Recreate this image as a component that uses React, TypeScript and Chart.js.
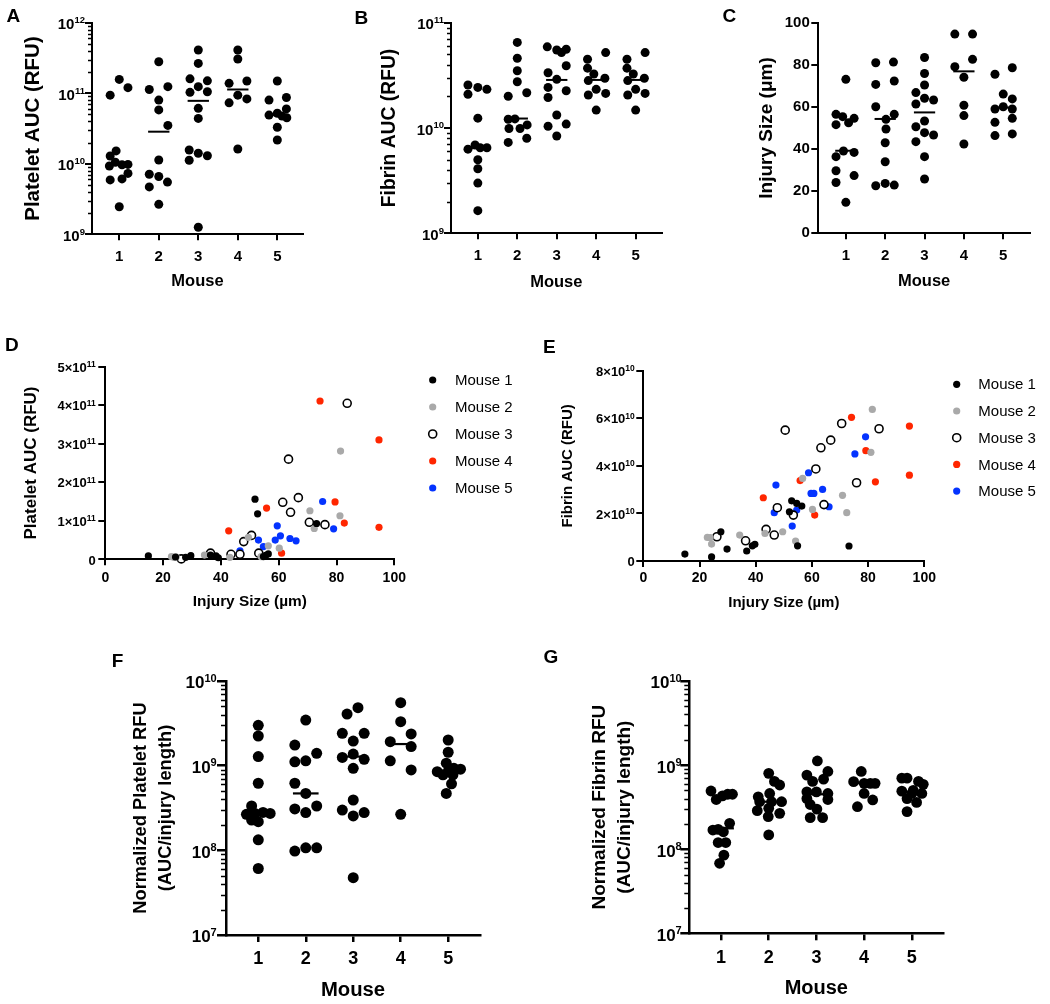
import React, { useEffect, useRef } from 'react';
import { Chart, registerables } from 'chart.js';

Chart.register(...registerables);

const FONT = "'Liberation Sans', Arial, Helvetica, sans-serif";
Chart.defaults.font.family = FONT;
Chart.defaults.color = '#000';

// ---------------- shared categories ----------------
const mouseTicks = [1, 2, 3, 4, 5];
const mouseTickLabels = ['1', '2', '3', '4', '5'];
const mouseNames = ['Mouse 1', 'Mouse 2', 'Mouse 3', 'Mouse 4', 'Mouse 5'];
const mouseColors = ['#000000', '#a9a9a9', '#000000', '#ff2600', '#0433ff'];
const mouseHollow = [false, false, true, false, false];

// ---------------- Panel A: Platelet AUC (RFU) ----------------
const plateletAUC = [
  [9.4e10, 1.57e11, 1.2e11, 1.52e10, 1.29e10, 1.05e10, 9.3e9, 9.7e9, 9.8e9, 7.3e9, 5.9e9, 6.1e9, 2.46e9],
  [2.8e11, 1.13e11, 1.24e11, 8.0e10, 5.8e10, 3.5e10, 1.13e10, 7.1e9, 6.6e9, 5.5e9, 4.7e9, 2.66e9],
  [4.1e11, 2.65e11, 1.6e11, 1.5e11, 1.24e11, 1.03e11, 1.05e11, 6.1e10, 4.4e10, 1.57e10, 1.41e10, 1.3e10, 1.12e10, 1.26e9],
  [4.1e11, 3.06e11, 1.38e11, 1.49e11, 9.4e10, 7.3e10, 8.3e10, 1.62e10],
  [1.49e11, 8.0e10, 8.7e10, 6.0e10, 5.2e10, 4.9e10, 4.75e10, 4.5e10, 3.3e10, 2.17e10],
];
const plateletAUCJitter = [
  [-0.23, 0, 0.22, -0.08, -0.23, -0.1, -0.25, 0.07, 0.22, 0.22, -0.23, 0.07, 0],
  [0, -0.24, 0.23, 0, 0, 0.23, 0, -0.24, 0, 0.22, -0.24, 0],
  [0, 0, -0.21, 0.23, 0, -0.21, 0.23, 0, 0, -0.23, 0, 0.23, -0.23, 0],
  [0, 0, -0.22, 0.23, 0, -0.22, 0.23, 0],
  [0, -0.21, 0.23, 0.23, 0, -0.21, 0.12, 0.24, 0, 0],
];
const plateletAUCMedian = [1.0e10, 2.85e10, 7.8e10, 1.13e11, 4.9e10];
const plateletAUCExponents = [9, 10, 11, 12];

// ---------------- Panel B: Fibrin AUC (RFU) ----------------
const fibrinAUC = [
  [2.56e10, 2.09e10, 2.43e10, 2.33e10, 1.24e10, 6.3e9, 6.9e9, 6.5e9, 6.5e9, 5.0e9, 4.1e9, 3.0e9, 1.64e9],
  [6.5e10, 4.6e10, 3.5e10, 2.75e10, 2.0e10, 2.16e10, 1.21e10, 1.22e10, 9.9e9, 9.9e9, 1.07e10, 7.3e9, 8.0e9],
  [5.9e10, 5.5e10, 5.2e10, 5.6e10, 3.9e10, 3.35e10, 2.9e10, 2.43e10, 2.26e10, 1.95e10, 1.33e10, 1.04e10, 1.09e10, 8.4e9],
  [4.5e10, 5.2e10, 3.7e10, 3.26e10, 2.82e10, 2.97e10, 2.33e10, 2.06e10, 2.13e10, 1.48e10],
  [4.5e10, 5.2e10, 3.7e10, 3.26e10, 2.82e10, 2.97e10, 2.33e10, 2.06e10, 2.13e10, 1.48e10],
];
const fibrinAUCJitter = [
  [-0.25, -0.25, 0, 0.23, 0, -0.25, -0.07, 0.06, 0.23, 0, 0, 0, 0],
  [0, 0, 0, 0, -0.23, 0.24, -0.23, -0.06, -0.21, 0.07, 0.25, -0.23, 0.24],
  [-0.24, 0, 0.12, 0.24, 0.24, -0.22, 0, -0.22, 0.24, -0.22, 0, -0.22, 0.24, 0],
  [-0.22, 0.24, -0.22, -0.06, -0.2, 0.22, 0, -0.2, 0.24, 0],
  [-0.22, 0.24, -0.22, -0.06, -0.2, 0.22, 0, -0.2, 0.24, 0],
];
const fibrinAUCMedian = [6.5e9, 1.23e10, 2.86e10, 2.86e10, 2.86e10];
const fibrinAUCExponents = [9, 10, 11];

// ---------------- Panel C: Injury Size (μm) ----------------
const injurySize = [
  [73.1, 56.5, 55.4, 54.6, 51.6, 52.5, 39.1, 38.4, 36.4, 29.7, 27.4, 24.1, 14.7],
  [81.0, 81.3, 70.7, 72.3, 60.1, 56.5, 54.1, 49.5, 43.0, 34.0, 22.6, 23.7, 22.9],
  [83.5, 75.9, 70.4, 66.8, 64.1, 63.3, 61.4, 53.3, 50.6, 47.8, 46.7, 43.5, 36.4, 25.8],
  [94.6, 94.6, 82.6, 79.1, 74.1, 60.8, 55.9, 42.4],
  [75.5, 78.6, 66.1, 63.8, 59.0, 60.1, 59.0, 52.7, 54.6, 46.4, 47.2],
];
const injurySizeJitter = [
  [0, -0.25, -0.08, 0.21, -0.25, 0.07, -0.06, 0.21, -0.25, -0.25, 0.21, -0.25, 0],
  [-0.24, 0.21, -0.24, 0.23, -0.24, 0.23, 0.02, 0.02, 0, 0, -0.24, 0, 0.23],
  [0, 0, 0, -0.22, 0, 0.23, -0.22, 0, -0.22, 0, 0.23, -0.22, 0, 0],
  [-0.23, 0.22, 0.22, -0.23, 0, 0, 0, 0],
  [-0.21, 0.23, 0, 0.23, -0.21, 0, 0.23, -0.21, 0.23, -0.21, 0.23],
];
const injurySizeMedian = [39.2, 54.3, 57.4, 76.9, 59.7];
const injurySizeTicks = [0, 20, 40, 60, 80, 100];

// ---------------- Panel D: Platelet AUC vs injury size ----------------
const dInjury = [
  [14.9, 24.3, 27.8, 29.6, 36.4, 38.3, 39.1, 51.8, 52.7, 54.7, 55.5, 56.4, 73.1],
  [22.9, 23.8, 24.5, 34.3, 43.1, 49.5, 53.9, 56.4, 60.2, 70.8, 72.3, 81.2, 81.4],
  [26.3, 36.4, 43.5, 46.6, 47.9, 50.6, 53.1, 61.4, 63.4, 64.1, 66.8, 70.6, 76.0, 83.7],
  [42.7, 55.8, 61.0, 74.3, 79.5, 82.7, 94.7, 94.7],
  [46.6, 53.0, 54.7, 58.8, 59.5, 60.6, 63.9, 66.0, 75.2, 79.0],
];
const dPlatelet = [
  [0.087e11, 0.06e11, 0.05e11, 0.095e11, 0.11e11, 0.087e11, 0.04e11, 1.56e11, 1.18e11, 0.07e11, 0.1e11, 0.14e11, 0.93e11],
  [0.07e11, 0.05e11, 0.06e11, 0.11e11, 0.05e11, 0.57e11, 0.07e11, 0.35e11, 0.29e11, 1.26e11, 0.8e11, 1.13e11, 2.81e11],
  [0.01e11, 0.16e11, 0.13e11, 0.13e11, 0.46e11, 0.62e11, 0.16e11, 1.48e11, 2.6e11, 1.22e11, 1.6e11, 0.96e11, 0.9e11, 4.05e11],
  [0.74e11, 1.33e11, 0.16e11, 4.11e11, 1.49e11, 0.94e11, 3.1e11, 0.83e11],
  [0.22e11, 0.5e11, 0.33e11, 0.5e11, 0.87e11, 0.61e11, 0.54e11, 0.48e11, 1.5e11, 0.79e11],
];
const dYTickMantissas = [0, 1, 2, 3, 4, 5];
const dYTickExponent = 11;

// ---------------- Panel E: Fibrin AUC vs injury size ----------------
const eInjury = [
  [14.8, 24.3, 27.6, 29.8, 36.8, 38.8, 39.7, 52.0, 52.8, 54.6, 56.4, 54.9, 73.2],
  [22.8, 23.8, 24.3, 34.3, 43.3, 49.6, 54.2, 56.7, 60.2, 70.9, 72.4, 81.0, 81.5],
  [26.2, 36.4, 43.7, 46.6, 47.7, 50.5, 53.4, 61.4, 63.2, 64.3, 66.7, 70.6, 75.9, 83.9],
  [42.7, 55.8, 61.0, 74.1, 79.2, 82.6, 94.7, 94.7],
  [46.6, 47.2, 53.0, 54.6, 58.8, 59.7, 60.7, 63.8, 66.1, 75.3, 79.1],
];
const eFibrin = [
  [0.29e10, 0.17e10, 1.23e10, 0.5e10, 0.42e10, 0.64e10, 0.7e10, 2.07e10, 2.53e10, 2.42e10, 2.31e10, 0.64e10, 0.63e10],
  [0.99e10, 0.98e10, 0.71e10, 1.09e10, 1.16e10, 1.23e10, 0.84e10, 3.47e10, 2.17e10, 2.76e10, 2.03e10, 4.57e10, 6.37e10],
  [1.02e10, 0.85e10, 1.33e10, 1.09e10, 2.24e10, 5.5e10, 1.93e10, 3.87e10, 4.76e10, 2.37e10, 5.08e10, 5.78e10, 3.29e10, 5.56e10],
  [2.66e10, 3.38e10, 1.93e10, 6.04e10, 4.64e10, 3.33e10, 5.67e10, 3.61e10],
  [2.03e10, 3.19e10, 1.47e10, 2.14e10, 3.71e10, 2.84e10, 2.84e10, 3.01e10, 2.28e10, 4.5e10, 5.22e10],
];
const eYTickMantissas = [0, 2, 4, 6, 8];
const eYTickExponent = 10;
const scatterXTicks = [0, 20, 40, 60, 80, 100];

// ---------------- Panel F: Normalized Platelet RFU ----------------
const normPlatelet = [
  [3.0e9, 2.24e9, 1.28e9, 6.2e8, 3.34e8, 2.66e8, 2.73e8, 2.8e8, 2.73e8, 2.28e8, 2.18e8, 1.33e8, 6.1e7],
  [3.46e9, 1.75e9, 1.4e9, 1.11e9, 1.14e9, 6.2e8, 4.7e8, 3.34e8, 3.08e8, 2.79e8, 9.8e7, 1.07e8, 1.07e8],
  [4.84e9, 4.07e9, 2.41e9, 2.41e9, 1.95e9, 1.37e9, 1.25e9, 1.19e9, 9.3e8, 3.93e8, 2.99e8, 2.79e8, 2.55e8, 4.75e7],
  [5.55e9, 3.31e9, 1.92e9, 2.37e9, 1.68e9, 1.14e9, 8.9e8, 2.66e8],
  [2.01e9, 1.44e9, 1.07e9, 8.5e8, 9.3e8, 9.1e8, 8.8e8, 7.8e8, 7.8e8, 6.1e8, 4.7e8],
];
const normPlateletJitter = [
  [0, 0, 0, 0, -0.14, -0.25, -0.07, 0.1, 0.25, -0.14, 0, 0, 0],
  [0, -0.23, 0.23, -0.23, 0, -0.23, 0, 0.23, -0.23, 0, -0.23, 0, 0.23],
  [0.1, -0.13, -0.23, 0.23, 0, 0, -0.23, 0.23, 0, 0, -0.23, 0.23, 0, 0],
  [0, 0, -0.22, 0.22, 0.22, -0.22, 0.22, 0],
  [0, 0, -0.04, -0.23, 0.12, 0.26, 0.01, -0.11, 0.1, 0.07, -0.04],
];
const normPlateletMedian = [2.73e8, 4.7e8, 1.28e9, 1.8e9, 8.5e8];

// ---------------- Panel G: Normalized Fibrin RFU ----------------
const normFibrin = [
  [4.92e8, 3.9e8, 4.3e8, 4.5e8, 4.5e8, 1.69e8, 1.72e8, 1.61e8, 2.03e8, 1.2e8, 1.2e8, 8.5e7, 6.8e7],
  [7.98e8, 5.8e8, 6.4e8, 4.2e8, 4.6e8, 3.67e8, 3.67e8, 3.67e8, 2.87e8, 3.06e8, 2.67e8, 2.44e8, 1.48e8],
  [1.12e9, 7.6e8, 8.4e8, 6.4e8, 6.8e8, 4.8e8, 4.8e8, 4.6e8, 4.0e8, 3.9e8, 3.4e8, 3.0e8, 2.37e8, 2.37e8],
  [8.4e8, 6.35e8, 6.07e8, 6.07e8, 6.07e8, 4.6e8, 3.85e8, 3.2e8],
  [7.0e8, 7.0e8, 6.4e8, 5.9e8, 4.9e8, 5.0e8, 4.6e8, 4.6e8, 4.0e8, 3.6e8, 2.8e8],
];
const normFibrinJitter = [
  [-0.21, -0.1, 0.03, 0.14, 0.24, -0.17, -0.06, 0.05, 0.18, 0.1, -0.06, 0.06, -0.03],
  [0, 0.23, 0.12, -0.22, 0.02, -0.19, 0.06, 0.27, -0.24, 0, 0.23, -0.01, 0],
  [0.02, -0.2, 0.24, -0.08, 0.15, -0.2, 0, 0.24, -0.2, 0.24, -0.13, 0.01, -0.13, 0.13],
  [-0.06, -0.22, 0, 0.13, 0.23, 0, 0.18, -0.14],
  [-0.21, -0.1, 0.14, 0.24, -0.21, 0.03, 0, 0.21, -0.1, 0.1, -0.1],
];
const normFibrinMedian = [1.77e8, 3.67e8, 4.5e8, 6.1e8, 4.8e8];
const normExponents = [7, 8, 9, 10];

// ---------------- helpers ----------------
const MEDIAN_HALF = 0.27;

function supLabelsPlugin(items: any[], o: any) {
  return {
    id: 'supLabels',
    afterDraw(chart: any) {
      const ctx = chart.ctx;
      const s = chart.scales.y;
      const xr = chart.chartArea.left - o.gap;
      ctx.save();
      ctx.fillStyle = '#000';
      ctx.textBaseline = 'alphabetic';
      ctx.textAlign = 'right';
      for (const it of items) {
        const y = s.getPixelForValue(it.value);
        let x = xr;
        if (it.exp) {
          ctx.font = `bold ${o.expSize}px ${FONT}`;
          ctx.fillText(it.exp, x, y + o.expDy);
          x -= ctx.measureText(it.exp).width;
        }
        ctx.font = `bold ${o.baseSize}px ${FONT}`;
        ctx.fillText(it.base, x, y + o.baseDy);
      }
      ctx.restore();
    },
  };
}

function minorTicksPlugin(exps: number[], len: number, width: number) {
  return {
    id: 'minorTicks',
    beforeDatasetsDraw(chart: any) {
      const ctx = chart.ctx;
      const s = chart.scales.y;
      const x = chart.chartArea.left;
      ctx.save();
      ctx.strokeStyle = '#000';
      ctx.lineWidth = width;
      ctx.beginPath();
      for (let i = 0; i < exps.length - 1; i++) {
        for (let k = 2; k <= 9; k++) {
          const y = Math.round(s.getPixelForValue(k * Math.pow(10, exps[i]))) + 0.5;
          ctx.moveTo(x - len, y);
          ctx.lineTo(x, y);
        }
      }
      ctx.stroke();
      ctx.restore();
    },
  };
}

function legendPlugin(o: any) {
  return {
    id: 'customLegend',
    afterDraw(chart: any) {
      const ctx = chart.ctx;
      ctx.save();
      chart.data.datasets.forEach((ds: any, i: number) => {
        const y = o.startY + i * o.stepY;
        ctx.beginPath();
        ctx.arc(o.markerX, y, ds.pointRadius, 0, Math.PI * 2);
        ctx.fillStyle = ds.backgroundColor;
        ctx.fill();
        if (ds.borderWidth > 0) {
          ctx.lineWidth = ds.borderWidth;
          ctx.strokeStyle = ds.borderColor;
          ctx.stroke();
        }
        ctx.fillStyle = '#000';
        ctx.font = `${o.fontSize}px ${FONT}`;
        ctx.textAlign = 'left';
        ctx.textBaseline = 'middle';
        ctx.fillText(ds.label, o.textX, y + 1);
      });
      ctx.restore();
    },
  };
}

function axisGrid(len: number, w: number) {
  return {
    display: true,
    drawOnChartArea: false,
    drawTicks: true,
    tickLength: len,
    tickWidth: w,
    tickColor: '#000',
    lineWidth: w,
    color: '#000',
  };
}

function stripConfig(p: any) {
  const datasets: any[] = [];
  p.values.forEach((vals: number[], i: number) => {
    datasets.push({
      type: 'scatter',
      label: mouseNames[i],
      data: vals.map((v, j) => ({ x: mouseTicks[i] + p.jitter[i][j], y: v })),
      backgroundColor: '#000',
      borderColor: '#000',
      borderWidth: 0,
      pointRadius: p.radius,
      pointHoverRadius: p.radius,
      clip: false,
      order: 1,
    });
  });
  p.medians.forEach((m: number, i: number) => {
    datasets.push({
      type: 'line',
      label: mouseNames[i] + ' median',
      data: [
        { x: mouseTicks[i] - MEDIAN_HALF, y: m },
        { x: mouseTicks[i] + MEDIAN_HALF, y: m },
      ],
      borderColor: '#000',
      borderWidth: p.medianWidth,
      pointRadius: 0,
      clip: false,
      fill: false,
      order: 0,
    });
  });
  const plugins: any[] = [];
  let yScale: any;
  if (p.logExps) {
    const exps = p.logExps;
    yScale = {
      type: 'logarithmic',
      min: Math.pow(10, exps[0]),
      max: Math.pow(10, exps[exps.length - 1]),
      afterBuildTicks: (s: any) => {
        s.ticks = exps.map((e: number) => ({ value: Math.pow(10, e), major: true }));
      },
      ticks: { display: false },
    };
    plugins.push(
      supLabelsPlugin(exps.map((e: number) => ({ value: Math.pow(10, e), base: '10', exp: String(e) })), p.sup),
      minorTicksPlugin(exps, p.minorLen, p.minorWidth)
    );
  } else {
    const t = p.linTicks;
    yScale = {
      type: 'linear',
      min: t[0],
      max: t[t.length - 1],
      afterBuildTicks: (s: any) => {
        s.ticks = t.map((v: number) => ({ value: v }));
      },
      ticks: {
        font: { size: p.yTickSize, weight: 'bold' },
        padding: p.yTickPad,
        color: '#000',
        callback: (v: any) => String(v),
      },
    };
  }
  Object.assign(yScale, {
    position: 'left',
    afterFit: (s: any) => { s.width = p.yAxisW; },
    grid: axisGrid(p.yTickLen, p.axisW),
    border: { display: true, color: '#000', width: p.axisW },
    title: {
      display: true,
      text: p.yTitle,
      color: '#000',
      font: { size: p.yTitleSize, weight: 'bold', lineHeight: p.yTitleLH },
      padding: { top: p.yTitlePad, bottom: 0 },
    },
  });
  return {
    type: 'scatter',
    data: { datasets },
    plugins,
    options: {
      responsive: false,
      maintainAspectRatio: false,
      animation: false,
      events: [],
      layout: { padding: { left: 0, top: p.padTop, right: p.padRight, bottom: 0 }, autoPadding: false },
      plugins: { legend: { display: false }, tooltip: { enabled: false } },
      scales: {
        x: {
          type: 'linear',
          position: 'bottom',
          min: p.xMin,
          max: p.xMax,
          afterBuildTicks: (s: any) => {
            s.ticks = mouseTicks.map((v) => ({ value: v }));
          },
          afterFit: (s: any) => { s.height = p.xAxisH; },
          ticks: {
            autoSkip: false,
            maxRotation: 0,
            font: { size: p.xTickSize, weight: 'bold' },
            padding: p.xTickPad,
            color: '#000',
            callback: (v: any) => mouseTickLabels[mouseTicks.indexOf(v)] ?? '',
          },
          grid: axisGrid(p.xTickLen, p.axisW),
          border: { display: true, color: '#000', width: p.axisW },
          title: {
            display: true,
            text: 'Mouse',
            color: '#000',
            font: { size: p.xTitleSize, weight: 'bold' },
            padding: { top: 0, bottom: p.xTitlePad },
          },
        },
        y: yScale,
      },
    },
  };
}

function scatterConfig(p: any) {
  const datasets = p.xs.map((xs: number[], i: number) => ({
    type: 'scatter',
    label: mouseNames[i],
    data: xs.map((x, j) => ({ x, y: p.ys[i][j] })),
    backgroundColor: mouseHollow[i] ? '#ffffff' : mouseColors[i],
    borderColor: mouseColors[i],
    borderWidth: mouseHollow[i] ? 1.6 : 0,
    pointRadius: mouseHollow[i] ? 4 : 3.6,
    pointHoverRadius: mouseHollow[i] ? 4 : 3.6,
    clip: false,
  }));
  const unit = Math.pow(10, p.yExp);
  const yValues = p.yMantissas.map((m: number) => m * unit);
  const labelItems = p.yMantissas.map((m: number) =>
    m === 0 ? { value: 0, base: '0' } : { value: m * unit, base: `${m}×10`, exp: String(p.yExp) }
  );
  return {
    type: 'scatter',
    data: { datasets },
    plugins: [supLabelsPlugin(labelItems, p.sup), legendPlugin(p.legend)],
    options: {
      responsive: false,
      maintainAspectRatio: false,
      animation: false,
      events: [],
      layout: { padding: { left: 0, top: p.padTop, right: p.padRight, bottom: 0 }, autoPadding: false },
      plugins: { legend: { display: false }, tooltip: { enabled: false } },
      scales: {
        x: {
          type: 'linear',
          position: 'bottom',
          min: scatterXTicks[0],
          max: scatterXTicks[scatterXTicks.length - 1],
          afterBuildTicks: (s: any) => {
            s.ticks = scatterXTicks.map((v) => ({ value: v }));
          },
          afterFit: (s: any) => { s.height = p.xAxisH; },
          ticks: {
            autoSkip: false,
            maxRotation: 0,
            font: { size: 14, weight: 'bold' },
            padding: p.xTickPad,
            color: '#000',
            callback: (v: any) => String(v),
          },
          grid: axisGrid(6, 2),
          border: { display: true, color: '#000', width: 2 },
          title: {
            display: true,
            text: 'Injury Size (µm)',
            color: '#000',
            font: { size: p.xTitleSize, weight: 'bold' },
            padding: { top: 0, bottom: p.xTitlePad },
          },
        },
        y: {
          type: 'linear',
          position: 'left',
          min: yValues[0],
          max: yValues[yValues.length - 1],
          afterBuildTicks: (s: any) => {
            s.ticks = yValues.map((v: number) => ({ value: v }));
          },
          afterFit: (s: any) => { s.width = p.yAxisW; },
          ticks: { display: false },
          grid: axisGrid(7, 2),
          border: { display: true, color: '#000', width: 2 },
          title: {
            display: true,
            text: p.yTitle,
            color: '#000',
            font: { size: p.yTitleSize, weight: 'bold' },
            padding: { top: p.yTitlePad, bottom: 0 },
          },
        },
      },
    },
  };
}

// ---------------- panels ----------------
const smallSup = { baseSize: 15, expSize: 9.5, gap: 7, baseDy: 6.7, expDy: 0.3 };
const bigSup = { baseSize: 17, expSize: 11, gap: 8.5, baseDy: 7.4, expDy: 0.8 };

const panels = [
  {
    key: 'A', left: 0, top: 0, width: 335, height: 300,
    build: () => stripConfig({
      values: plateletAUC, jitter: plateletAUCJitter, medians: plateletAUCMedian,
      logExps: plateletAUCExponents, sup: smallSup, minorLen: 4, minorWidth: 1.5,
      radius: 4.5, medianWidth: 2, axisW: 2, xTickLen: 6, yTickLen: 7,
      yAxisW: 92, padTop: 22.7, padRight: 32, xAxisH: 65.7, xMin: 0.31, xMax: 5.65,
      yTitle: 'Platelet AUC (RFU)', yTitleSize: 20.5, yTitleLH: 1.2, yTitlePad: 21.2,
      xTitleSize: 16.5, xTitlePad: 9.1, xTickSize: 15, xTickPad: 7.4,
    }),
  },
  {
    key: 'B', left: 335, top: 0, width: 345, height: 300,
    build: () => stripConfig({
      values: fibrinAUC, jitter: fibrinAUCJitter, medians: fibrinAUCMedian,
      logExps: fibrinAUCExponents, sup: smallSup, minorLen: 4, minorWidth: 1.5,
      radius: 4.5, medianWidth: 2, axisW: 2, xTickLen: 6, yTickLen: 7,
      yAxisW: 116, padTop: 22.7, padRight: 18.3, xAxisH: 66.7, xMin: 0.32, xMax: 5.66,
      yTitle: 'Fibrin AUC (RFU)', yTitleSize: 19.3, yTitleLH: 1.2, yTitlePad: 42.7,
      xTitleSize: 16.5, xTitlePad: 7.4, xTickSize: 15, xTickPad: 7.7,
    }),
  },
  {
    key: 'C', left: 680, top: 0, width: 370, height: 300,
    build: () => stripConfig({
      values: injurySize, jitter: injurySizeJitter, medians: injurySizeMedian,
      linTicks: injurySizeTicks, yTickSize: 15, yTickPad: 1.5,
      radius: 4.5, medianWidth: 2, axisW: 2, xTickLen: 6, yTickLen: 7,
      yAxisW: 138.3, padTop: 22.7, padRight: 20, xAxisH: 66.7, xMin: 0.3, xMax: 5.68,
      yTitle: 'Injury Size (μm)', yTitleSize: 19, yTitleLH: 1.2, yTitlePad: 75.3,
      xTitleSize: 16.5, xTitlePad: 9.1, xTickSize: 15, xTickPad: 7.7,
    }),
  },
  {
    key: 'D', left: 0, top: 340, width: 530, height: 280,
    build: () => scatterConfig({
      xs: dInjury, ys: dPlatelet, yMantissas: dYTickMantissas, yExp: dYTickExponent,
      sup: { baseSize: 13, expSize: 8.5, gap: 9.5, baseDy: 5.2, expDy: 0.5 },
      yAxisW: 105.3, padTop: 26.7, padRight: 135.7, xAxisH: 60.7,
      yTitle: 'Platelet AUC (RFU)', yTitleSize: 17, yTitlePad: 21.5,
      xTitleSize: 15.4, xTitlePad: 8.8, xTickPad: 4,
      legend: { markerX: 432.7, textX: 455, startY: 40, stepY: 27, fontSize: 15 },
    }),
  },
  {
    key: 'E', left: 530, top: 340, width: 520, height: 280,
    build: () => scatterConfig({
      xs: eInjury, ys: eFibrin, yMantissas: eYTickMantissas, yExp: eYTickExponent,
      sup: { baseSize: 13, expSize: 8.5, gap: 8.5, baseDy: 5.2, expDy: 0.5 },
      yAxisW: 113.3, padTop: 30.7, padRight: 125.7, xAxisH: 59,
      yTitle: 'Fibrin AUC (RFU)', yTitleSize: 15, yTitlePad: 29.3,
      xTitleSize: 15, xTitlePad: 8, xTickPad: 3,
      legend: { markerX: 426.7, textX: 448.3, startY: 44.3, stepY: 26.7, fontSize: 15 },
    }),
  },
  {
    key: 'F', left: 90, top: 640, width: 420, height: 364,
    build: () => stripConfig({
      values: normPlatelet, jitter: normPlateletJitter, medians: normPlateletMedian,
      logExps: normExponents, sup: { ...bigSup, gap: 9.3 }, minorLen: 5, minorWidth: 1.6,
      radius: 5.5, medianWidth: 2.2, axisW: 2.5, xTickLen: 7, yTickLen: 9,
      yAxisW: 136, padTop: 41, padRight: 30, xAxisH: 69, xMin: 0.32, xMax: 5.67,
      yTitle: ['Normalized Platelet RFU', '(AUC/injury length)'], yTitleSize: 18.3, yTitleLH: 25 / 18.3, yTitlePad: 38.2,
      xTitleSize: 20.3, xTitlePad: 1.1, xTickSize: 18, xTickPad: 6.5,
    }),
  },
  {
    key: 'G', left: 560, top: 640, width: 420, height: 364,
    build: () => stripConfig({
      values: normFibrin, jitter: normFibrinJitter, medians: normFibrinMedian,
      logExps: normExponents, sup: { ...bigSup, gap: 7.6 }, minorLen: 5, minorWidth: 1.6,
      radius: 5.4, medianWidth: 2.2, axisW: 2.5, xTickLen: 7, yTickLen: 9,
      yAxisW: 129.3, padTop: 41, padRight: 36.7, xAxisH: 70.7, xMin: 0.335, xMax: 5.66,
      yTitle: ['Normalized Fibrin RFU', '(AUC/injury length)'], yTitleSize: 19, yTitleLH: 25 / 19, yTitlePad: 27.5,
      xTitleSize: 20, xTitlePad: 3.7, xTickSize: 18, xTickPad: 7.2,
    }),
  },
];

const panelLetters = [
  { text: 'A', left: 6.5, top: 5.8 },
  { text: 'B', left: 354.5, top: 7.5 },
  { text: 'C', left: 722.5, top: 6 },
  { text: 'D', left: 5, top: 335.2 },
  { text: 'E', left: 543, top: 336.5 },
  { text: 'F', left: 111.7, top: 650.5 },
  { text: 'G', left: 543.5, top: 647 },
];

function ChartCanvas(props: any) {
  const { left, top, width, height, build } = props;
  const ref = useRef<HTMLCanvasElement>(null);
  useEffect(() => {
    const chart = new Chart(ref.current as HTMLCanvasElement, build());
    return () => chart.destroy();
  }, []);
  return (
    <canvas
      ref={ref}
      width={width}
      height={height}
      style={{ position: 'absolute', left, top, width, height, display: 'block' }}
    />
  );
}

export default function App() {
  return (
    <div
      style={{
        position: 'absolute',
        left: 0,
        top: 0,
        width: 1050,
        height: 1004,
        background: '#ffffff',
        overflow: 'hidden',
      }}
    >
      {panels.map((p) => (
        <ChartCanvas key={p.key} left={p.left} top={p.top} width={p.width} height={p.height} build={p.build} />
      ))}
      {panelLetters.map((l) => (
        <div
          key={l.text}
          style={{
            position: 'absolute',
            left: l.left,
            top: l.top,
            font: `bold 19px ${FONT}`,
            lineHeight: '19px',
            color: '#000',
          }}
        >
          {l.text}
        </div>
      ))}
    </div>
  );
}
